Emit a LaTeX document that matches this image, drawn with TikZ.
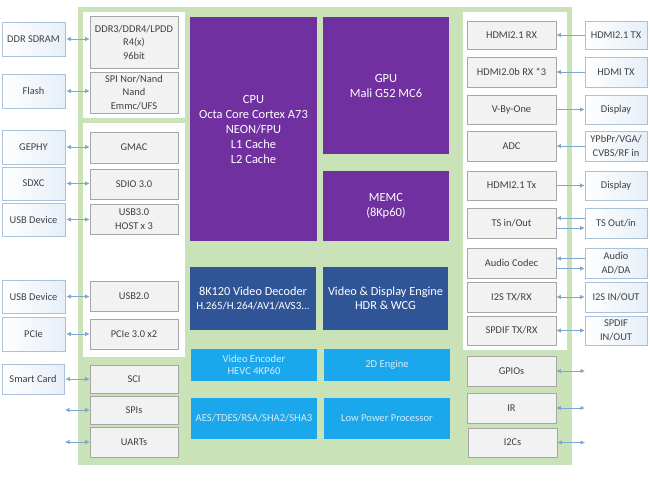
\documentclass[tikz,border=0pt]{standalone}
\usepackage{fontspec}
\setmainfont{Carlito}
\usetikzlibrary{arrows.meta}
\definecolor{bggreen}{HTML}{C9E2B8}
\definecolor{boxgray}{HTML}{F2F2F2}
\definecolor{boxline}{HTML}{A6A6A6}
\definecolor{extline}{HTML}{A9C1D9}
\definecolor{extfill}{HTML}{E6EFF8}
\definecolor{arrowc}{HTML}{7EA6CF}
\definecolor{cpupurple}{HTML}{7030A0}
\definecolor{darkblue}{HTML}{2F5597}
\definecolor{lightblue}{HTML}{1AA7EC}
\definecolor{txtgray}{HTML}{404040}
\definecolor{lbtext}{HTML}{D6ECF8}
\tikzset{
  gbox/.style={draw=boxline, fill=boxgray, line width=0.6pt, inner sep=0pt, align=center, text=txtgray, font=\fontsize{10.4}{13.5}\selectfont},
  lbox/.style={gbox, minimum width=88pt},
  rbox/.style={gbox, minimum width=89pt},
  ebox/.style={draw=extline, left color=white, right color=extfill, line width=0.6pt, inner sep=0pt, align=center, text=txtgray, font=\fontsize{10.4}{13.5}\selectfont},
  lext/.style={ebox, minimum width=63pt},
  rext/.style={ebox, minimum width=62pt},
  purp/.style={fill=cpupurple, inner sep=0pt, align=center, text=white, font=\fontsize{12.5}{15}\selectfont},
  dblue/.style={fill=darkblue, inner sep=0pt, align=center, text=white, font=\fontsize{12.3}{14.5}\selectfont},
  lblue/.style={fill=lightblue, inner sep=0pt, align=center, text=lbtext, minimum width=126pt, font=\fontsize{10.6}{12.5}\selectfont},
  link/.style={draw=arrowc, line width=0.8pt, {Latex[length=4.5pt,width=4.5pt]}-{Latex[length=4.5pt,width=4.5pt]}},
  tor/.style={draw=arrowc, line width=0.8pt, -{Latex[length=4.5pt,width=4.5pt]}},
}
\begin{document}
\begin{tikzpicture}[x=1pt,y=-1pt]
\useasboundingbox (0,0) rectangle (650,482);
% background
\fill[bggreen] (78,7) rectangle (572,465);
\fill[white] (83,12) rectangle (185,118);
\fill[white] (83,123) rectangle (185,357);
\fill[white] (463,12) rectangle (567,350);

% left inner boxes
\node[lbox, minimum height=52pt] (ddrc) at (134,42) {DDR3/DDR4/LPDD\\R4(x)\\96bit};
\node[lbox, minimum height=41pt] (spi) at (134,92.5) {SPI Nor/Nand\\Nand\\Emmc/UFS};
\node[lbox, minimum height=31pt] (gmac) at (134,147.5) {GMAC};
\node[lbox, minimum height=30pt] (sdio) at (134,184) {SDIO 3.0};
\node[lbox, minimum height=30pt] (usb3) at (134,219) {USB3.0\\HOST x 3};
\node[lbox, minimum height=30pt] (usb2) at (134,296) {USB2.0};
\node[lbox, minimum height=30pt] (pcie3) at (134,334) {PCIe 3.0 x2};
\node[lbox, minimum height=28pt] (sci) at (134,379) {SCI};
\node[lbox, minimum height=28pt] (spis) at (134,410) {SPIs};
\node[lbox, minimum height=30pt] (uarts) at (134,442) {UARTs};

% left external boxes
\node[lext, minimum height=34pt] (ddrs) at (33.5,39) {DDR SDRAM};
\node[lext, minimum height=34pt] (flash) at (33.5,91) {Flash};
\node[lext, minimum height=34pt] (gephy) at (33.5,147) {GEPHY};
\node[lext, minimum height=33pt] (sdxc) at (33.5,183.5) {SDXC};
\node[lext, minimum height=33pt] (usbda) at (33.5,219.5) {USB Device};
\node[lext, minimum height=33pt] (usbdb) at (33.5,296.5) {USB Device};
\node[lext, minimum height=34pt] (pcie) at (33.5,334) {PCIe};
\node[ebox, minimum width=62pt, minimum height=30pt] (smart) at (33,379) {Smart Card};
\coordinate (spisL) at (65,410);
\coordinate (uartsL) at (65,442);

% left arrows
\draw[link] ([xshift=1pt]ddrs.east) -- (ddrs.east -| ddrc.west);
\draw[link] ([xshift=1pt]flash.east) -- (flash.east -| spi.west);
\draw[link] ([xshift=1pt]gephy.east) -- (gephy.east -| gmac.west);
\draw[link] ([xshift=1pt]sdxc.east) -- (sdxc.east -| sdio.west);
\draw[link] ([xshift=1pt]usbda.east) -- (usbda.east -| usb3.west);
\draw[link] ([xshift=1pt]usbdb.east) -- (usbdb.east -| usb2.west);
\draw[link] ([xshift=1pt]pcie.east) -- (pcie.east -| pcie3.west);
\draw[link] ([xshift=1pt]smart.east) -- (smart.east -| sci.west);
\draw[link] (spisL) -- (spisL -| spis.west);
\draw[link] (uartsL) -- (uartsL -| uarts.west);

% center blocks
\node[purp, minimum width=127pt, minimum height=224pt] (cpu) at (253.5,129) {CPU\\Octa Core Cortex A73\\NEON/FPU\\L1 Cache\\L2 Cache};
\node[purp, minimum width=126pt, minimum height=137pt] (gpu) at (386,85.5) {GPU\\Mali G52 MC6};
\node[purp, minimum width=126pt, minimum height=70pt] (memc) at (386,206) {MEMC\\(8Kp60)};
\node[dblue, minimum width=126pt, minimum height=63pt] (dec) at (253,298.5) {8K120 Video Decoder\\{\fontsize{11}{13}\selectfont H.265/H.264/AV1/AVS3...}};
\node[dblue, minimum width=125pt, minimum height=63pt] (vde) at (385.5,298.5) {Video \& Display Engine\\HDR \& WCG};
\node[lblue, minimum height=32pt] (venc) at (254,365) {Video Encoder\\HEVC 4KP60};
\node[lblue, minimum height=32pt] (twod) at (387,365) {2D Engine};
\node[lblue, minimum height=41pt] (aes) at (254,418.5) {AES/TDES/RSA/SHA2/SHA3};
\node[lblue, minimum height=41pt] (lpp) at (387,418.5) {Low Power Processor};

% right inner boxes
\node[rbox, minimum height=28pt] (h21rx) at (511.5,35) {HDMI2.1 RX};
\node[rbox, minimum height=30pt] (h20rx) at (511.5,72) {HDMI2.0b RX *3};
\node[rbox, minimum height=29pt] (vbo) at (511.5,109.5) {V-By-One};
\node[rbox, minimum height=30pt] (adc) at (511.5,146) {ADC};
\node[rbox, minimum height=29pt] (h21tx) at (511.5,185.5) {HDMI2.1 Tx};
\node[rbox, minimum height=30pt] (ts) at (511.5,223) {TS in/Out};
\node[rbox, minimum height=30pt] (audio) at (511.5,263) {Audio Codec};
\node[rbox, minimum height=30pt] (i2s) at (511.5,297) {I2S TX/RX};
\node[rbox, minimum height=29pt] (spdif) at (511.5,330.5) {SPDIF TX/RX};
\node[rbox, minimum height=30pt] (gpio) at (511.5,371) {GPIOs};
\node[rbox, minimum height=30pt] (ir) at (511.5,408) {IR};
\node[rbox, minimum height=29pt] (i2c) at (512.5,442.5) {I2Cs};

% right external boxes
\node[rext, minimum height=28pt] (h21txe) at (616,35) {HDMI2.1 TX};
\node[rext, minimum height=30pt] (hdmitx) at (616,72) {HDMI TX};
\node[rext, minimum height=29pt] (disp1) at (616,109.5) {Display};
\node[rext, minimum height=30pt] (ypbpr) at (616,146) {YPbPr/VGA/\\CVBS/RF in};
\node[rext, minimum height=29pt] (disp2) at (616,185.5) {Display};
\node[rext, minimum height=30pt] (tso) at (616,223) {TS Out/in};
\node[rext, minimum height=30pt] (audad) at (616,263) {Audio\\AD/DA};
\node[rext, minimum height=30pt] (i2sio) at (616,297) {I2S IN/OUT};
\node[rext, minimum height=29pt] (spdifio) at (616,330.5) {SPDIF\\IN/OUT};
\coordinate (gpioR) at (585,371);
\coordinate (irR) at (585,408);
\coordinate (i2cR) at (585,442.5);

% right arrows
\draw[tor] (h21txe.west) -- (h21txe.west -| h21rx.east);
\draw[tor] (hdmitx.west) -- (hdmitx.west -| h20rx.east);
\draw[tor] (vbo.east) -- (vbo.east -| disp1.west);
\draw[tor] (ypbpr.west) -- (ypbpr.west -| adc.east);
\draw[tor] (h21tx.east) -- (h21tx.east -| disp2.west);
\draw[tor] ([yshift=-5pt]ts.east) -- ([yshift=-5pt]ts.east -| tso.west);
\draw[tor] ([yshift=5pt]tso.west) -- ([yshift=5pt]tso.west -| ts.east);
\draw[tor] ([yshift=-5.5pt]audio.east) -- ([yshift=-5.5pt]audio.east -| audad.west);
\draw[tor] ([yshift=4.5pt]audad.west) -- ([yshift=4.5pt]audad.west -| audio.east);
\draw[link] (i2s.east) -- (i2s.east -| i2sio.west);
\draw[link] (spdif.east) -- (spdif.east -| spdifio.west);
\draw[link] (gpio.east) -- (gpioR);
\draw[link] (ir.east) -- (irR);
\draw[link] (i2c.east) -- (i2cR);
\end{tikzpicture}
\end{document}
